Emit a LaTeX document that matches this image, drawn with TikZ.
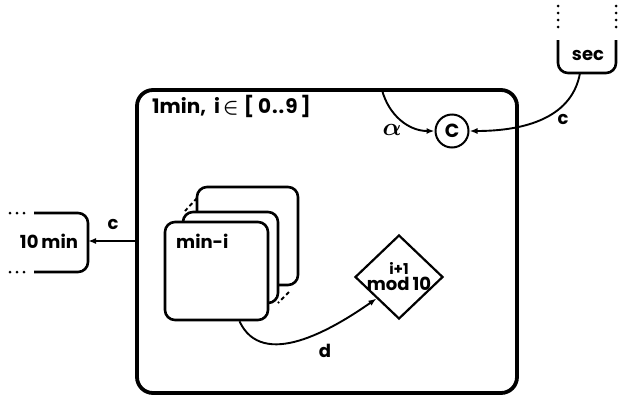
\documentclass[tikz,border=0pt]{standalone}
\usepackage{fontspec}
\setmainfont{Poppins}
\usetikzlibrary{arrows.meta, shapes.geometric}
\newcommand{\txtfont}{\fontsize{18}{20}\selectfont\bfseries}

\tikzset{
  bigbox/.style={draw, line width=3.8pt, rounded corners=16pt},
  box/.style={draw, line width=2.6pt, rounded corners=10pt},
  conn/.style={line width=1.9pt},
  tip/.style={-{Latex[length=8pt,width=6pt]}},
  dots/.style={line width=3pt, line cap=round, dash pattern=on 0pt off 7pt},
  txt/.style={font=\txtfont, inner sep=1pt},
}

\begin{document}
\begin{tikzpicture}[x=1pt, y=1pt]
  \useasboundingbox (0,0) rectangle (618,-397);
  % outer box
  \node[bigbox, minimum width=380pt, minimum height=303pt] (onemin) at (327,-241.5) {};
  \node[txt, font=\fontsize{20}{22}\selectfont\bfseries, anchor=west] (onelbl) at (151,-106)
    {1min,\hspace{8pt}i\hspace{3pt}{\boldmath$\in$}\hspace{5pt}[\hspace{4pt}0\hspace{1pt}.\hspace{1pt}.\hspace{1pt}9\hspace{3pt}]};
  % 10 min box, open on the left
  \draw[box] (34,-213) -- (88,-213) -- (88,-272) -- (34,-272);
  \draw[dots] (10,-213) -- (26,-213);
  \draw[dots] (10,-272) -- (26,-272);
  \node[txt] (tenmin) at (49,-241) {10\,min};
  \coordinate (tenmin-e) at (88,-241);
  % sec box, open at the top
  \draw[box] (558,-40) -- (558,-73) -- (616,-73) -- (616,-40);
  \draw[dots] (558,-6) -- (558,-34);
  \draw[dots] (616,-6) -- (616,-34);
  \node[txt] (sec) at (588,-55) {sec};
  \coordinate (sec-s) at (580,-73);
  % counter
  \node[circle, draw, line width=2pt, minimum size=33pt, inner sep=0pt, font=\fontsize{19}{21}\selectfont\bfseries] (cnt) at (452,-131) {C};
  \coordinate (alpha-s) at (382,-90);
  % stack of minutes
  \node[box, fill=white, minimum width=101pt, minimum height=98pt] (back) at (247.5,-236) {};
  \node[box, fill=white, minimum width=95pt, minimum height=91pt] (mid) at (230.5,-257.5) {};
  \node[box, fill=white, minimum width=103pt, minimum height=98pt] (front) at (216.5,-271) {};
  \draw[conn, dashed, dash pattern=on 4pt off 3pt] (197,-198) -- (185,-211);
  \draw[conn, dashed, dash pattern=on 4pt off 3pt] (289,-292) -- (278,-303);
  \node[txt, anchor=west] (minlbl) at (175,-241) {min-i};
  % increment
  \node[diamond, draw, line width=2.2pt, minimum width=88pt, minimum height=84pt, inner sep=-9pt,
        align=center, font=\txtfont] (modd) at (399,-277) {{\fontsize{15}{16}\selectfont i+1}\\[-4pt]mod\,10};
  % connectors
  \draw[conn, tip] (onemin.west |- tenmin-e) -- (tenmin-e);
  \node[txt] (c1) at (113,-224) {c};
  \draw[conn, tip] (sec-s) to[out=-100, in=0] (cnt);
  \node[txt] (c2) at (563,-119) {c};
  \draw[conn, tip] (alpha-s) to[out=-75, in=180] (cnt);
  \node[font=\fontsize{26}{28}\selectfont\boldmath] (alp) at (392,-130) {$\alpha$};
  \draw[conn, tip] ([xshift=23pt]front.south) to[out=-65, in=215] (modd.south west);
  \node[txt] (dl) at (325,-351) {d};
\end{tikzpicture}
\end{document}
